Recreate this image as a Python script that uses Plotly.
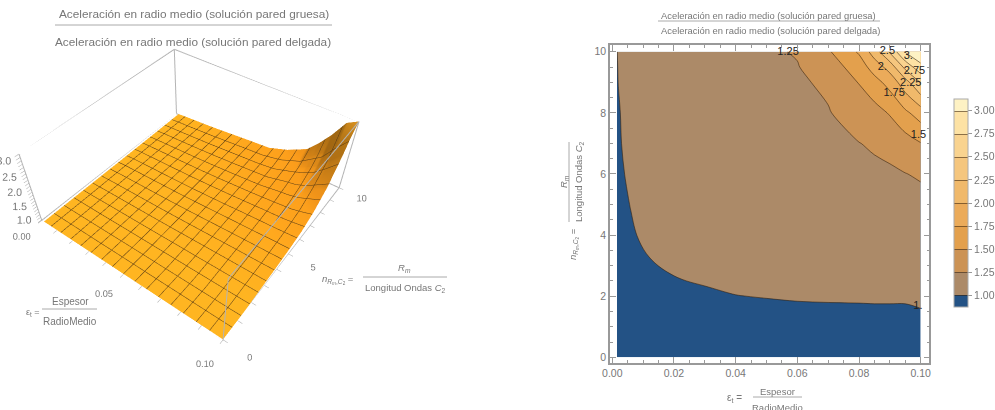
import plotly.graph_objects as go

eps = [.0015,.002,.003,.004,.006,.008,.011,.015,.02,.03,.04,.05,.06,.07,.08,.085,.09,.095,.1]
n = [0,1.5,2,2.5,3,4,5,6,7,8,9,9.5,10]
col = [
 [.99,.99,.99,.99,.99,.99,.99,.99,.99,.992,.995,.997,.999],
 [.99,.99,.99,.99,.99,.99,.99,.99,.992,.994,1.0015,1.003,1.005],
 [.99,.99,.99,.99,.99,.99,.99,.995,1.0001,1.004,1.007,1.009,1.011],
 [.99,.99,.99,.99,.99,.99,.996,1.0001,1.004,1.008,1.012,1.014,1.016],
 [.99,.99,.99,.99,.99,.996,1.001,1.006,1.01,1.014,1.019,1.021,1.024],
 [.99,.99,.99,.99,.996,1.0001,1.005,1.01,1.015,1.02,1.026,1.029,1.032],
 [.99,.99,.99,.99,.998,1.003,1.008,1.014,1.02,1.027,1.034,1.038,1.042],
 [.99,.99,.99,.997,1.0001,1.006,1.012,1.019,1.027,1.035,1.045,1.05,1.056],
 [.99,.99,.99,.999,1.002,1.009,1.017,1.026,1.036,1.047,1.06,1.067,1.074],
 [.99,.99,.997,1.0015,1.005,1.014,1.026,1.04,1.055,1.073,1.094,1.105,1.117],
 [.99,.995,.9995,1.005,1.01,1.02,1.036,1.055,1.078,1.105,1.135,1.152,1.17],
 [.99,.994,1.001,1.01,1.018,1.033,1.055,1.08,1.11,1.145,1.18,1.2,1.22],
 [.99,.99,1.005,1.018,1.03,1.05,1.08,1.11,1.15,1.19,1.215,1.24,1.265],
 [.99,.99,1.007,1.02,1.04,1.07,1.11,1.15,1.19,1.235,1.293,1.37,1.47],
 [.99,.988,1.01,1.03,1.05,1.09,1.13,1.19,1.245,1.37,1.51,1.62,1.78],
 [.99,.989,1.011,1.03,1.055,1.095,1.145,1.2,1.28,1.41,1.66,1.86,2.12],
 [.99,.988,1.012,1.035,1.06,1.10,1.16,1.22,1.31,1.52,1.84,2.1,2.53],
 [.99,.987,1.013,1.04,1.065,1.11,1.17,1.245,1.39,1.7,2.15,2.57,3.03],
 [.99,.995,1.02,1.045,1.07,1.12,1.18,1.275,1.49,1.87,2.51,2.93,3.2],
]
z = [[c[j] for c in col] for j in range(len(n))]

band_colors = ["#235285","#AC8A68","#CC9355","#E3A04D","#EBAB5A","#F0B96B","#F5C67E","#F9D38F","#FDE2A4","#FEF2C4"]
label_eps = [.057,.0993,.0914,.0876,.0968,.0892,.098,.096,.0991]
label_n = [9.97,7.27,8.64,9.49,8.97,10.02,9.37,9.84,1.66]
label_text = ["1.25","1.5","1.75","2.","2.25","2.5","2.75","3.","1."]
range_eps=[0,.1]; range_n=[0,10]; range_z=[.98,3.2]
z_label_vals=[1,1.5,2,2.5,3]
z_label_text=["1.0","1.5","2.0","2.5","3.0"]

GRAY="#777777"; FONT="Liberation Sans"
W=995; H=410
def fx(px): return px/W
def fy(py): return (H-py)/H

fig = go.Figure()

fig.add_trace(go.Surface(
    x=eps, y=n, z=z, showscale=False, hoverinfo="skip", cmin=1, cmax=3.2,
    colorscale=[[0,"#FFB21E"],[.1,"#FCA21A"],[.3,"#F59516"],[1,"#F0A020"]],
    lighting=dict(ambient=.35,diffuse=.8,specular=.03,roughness=.9,fresnel=0),
    lightposition=dict(x=4000,y=4000,z=8000),
    contours=dict(
        x=dict(show=True,start=.00625,end=.0999,size=.00625,color="#5a3c14",width=1.5),
        y=dict(show=True,start=.625,end=9.99,size=.625,color="#5a3c14",width=1.5),
    ),
))

# bounding box edges (all twelve, drawn from the axis ranges)
ex,ey,ez=[],[],[]
a0,a1=range_eps; b0,b1=range_n; c0,c1=range_z
for p,q in [((a0,b0),(a1,b0)),((a1,b0),(a1,b1)),((a1,b1),(a0,b1)),((a0,b1),(a0,b0))]:
    for zz in (c0,c1):
        ex+=[p[0],q[0],None]; ey+=[p[1],q[1],None]; ez+=[zz,zz,None]
    ex+=[p[0],p[0],None]; ey+=[p[1],p[1],None]; ez+=[c0,c1,None]
fig.add_trace(go.Scatter3d(x=ex,y=ey,z=ez,mode="lines",line=dict(color="#b4b4b4",width=2),hoverinfo="skip",showlegend=False))
fig.add_trace(go.Scatter3d(x=[a0]*len(z_label_vals),y=[b0]*len(z_label_vals),z=z_label_vals,text=z_label_text,
    mode="text",textposition="middle left",textfont=dict(size=10.5,color=GRAY,family=FONT),hoverinfo="skip",showlegend=False))

nc = len(band_colors)
fig.add_trace(go.Contour(
    x=eps, y=n, z=z, xaxis="x", yaxis="y", hoverinfo="skip",
    autocontour=False,
    contours=dict(start=1,end=3,size=.25,coloring="fill"),
    line=dict(color="rgba(50,30,10,.55)",width=1,smoothing=1),
    colorscale=[[i/(nc-1),c] for i,c in enumerate(band_colors)],
    colorbar=dict(x=fx(954),xanchor="left",y=fy(203),yanchor="middle",
        thickness=14,lenmode="pixels",len=208,tick0=1,dtick=.25,tickformat=".2f",
        tickfont=dict(size=10.5,color=GRAY,family=FONT),ticks="outside",ticklen=4,
        tickcolor="#999",outlinecolor="#aaa",outlinewidth=1,xpad=0,ypad=0),
))
fig.add_trace(go.Scatter(x=label_eps,y=label_n,text=label_text,mode="text",showlegend=False,
    hoverinfo="skip",cliponaxis=False,textfont=dict(size=11,color="#222",family=FONT)))

def ax3(vals,labels,rng):
    return dict(range=rng,tickvals=vals,ticktext=labels,title=dict(text=""),showgrid=False,zeroline=False,
        showbackground=False,showline=False,
        ticks="outside",ticklen=4,tickcolor="#aaaaaa",showspikes=False,tickangle=0,
        tickfont=dict(size=10.5,color=GRAY,family=FONT))
eps_ticks=[0,.01,.02,.03,.04,.05,.06,.07,.08,.09,.1]
eps_lab=["0.00","","","","","0.05","","","","","0.10"]
n_ticks=[0,1,2,3,4,5,6,7,8,9,10]
n_lab=["0","","","","","5","","","","","10"]
z_ticks=[1,1.1,1.2,1.3,1.4,1.5,1.6,1.7,1.8,1.9,2,2.1,2.2,2.3,2.4,2.5,2.6,2.7,2.8,2.9,3,3.1,3.2]
z_lab=[""]*len(z_ticks)

xa=dict(domain=[fx(610),fx(929.3)],range=[-.00075,.1028],tick0=0,dtick=.02,tickformat=".2f",
    showline=True,linecolor="#999",linewidth=1.5,mirror="allticks",ticks="inside",ticklen=6,tickcolor="#999",
    showgrid=False,zeroline=False,tickfont=dict(size=10.5,color=GRAY,family=FONT),
    minor=dict(dtick=.005,ticks="inside",ticklen=3,tickcolor="#999",showgrid=False))
ya=dict(domain=[fy(363),fy(45)],range=[-.187,10.22],tick0=0,dtick=2,
    showline=True,linecolor="#999",linewidth=1.5,mirror="allticks",ticks="inside",ticklen=6,tickcolor="#999",
    showgrid=False,zeroline=False,tickfont=dict(size=10.5,color=GRAY,family=FONT),
    minor=dict(dtick=.5,ticks="inside",ticklen=3,tickcolor="#999",showgrid=False))

def txt(px,py,s,size=9.5,angle=0,color=GRAY):
    return dict(x=fx(px),y=fy(py),xref="paper",yref="paper",text=s,showarrow=False,textangle=angle,
        font=dict(size=size,color=color,family=FONT),xanchor="center",yanchor="middle")
def bar(x0,y0,x1,y1):
    return dict(type="line",xref="paper",yref="paper",x0=fx(x0),x1=fx(x1),y0=fy(y0),y1=fy(y1),
        line=dict(color="#aaaaaa",width=1))

ann=[
 txt(194,14,"Aceleración en radio medio (solución pared gruesa)",11.8),
 txt(193,42,"Aceleración en radio medio (solución pared delgada)",11.8),
 txt(768,15,"Aceleración en radio medio (solución pared gruesa)",9.4),
 txt(770,31,"Aceleración en radio medio (solución pared delgada)",9.4),
 txt(33,312,"ε<sub>t</sub> =",9),
 txt(70,301,"Espesor",10), txt(70,321,"RadioMedio",10),
 txt(338,279,"<i>n</i><sub><i>R<sub>m</sub></i>,<i>C</i><sub>2</sub></sub> =",9.5),
 txt(404,268,"<i>R<sub>m</sub></i>",9.5), txt(405,288,"Longitud Ondas <i>C</i><sub>2</sub>",9.5),
 txt(734,398,"ε<sub>t</sub> =",10),
 txt(777,391,"Espesor",9.5), txt(777,407,"RadioMedio",9.5),
 txt(573,244,"<i>n</i><sub><i>R<sub>m</sub></i>,<i>C</i><sub>2</sub></sub> =",9.5,-90),
 txt(564,182,"<i>R<sub>m</sub></i>",9.5,-90), txt(579,182,"Longitud Ondas <i>C</i><sub>2</sub>",9.5,-90),
]
shp=[bar(55,25,332,25),bar(658,21,880,21),bar(42,309,97,309),bar(363,277,447,277),bar(753,397,802,397),bar(569,142,569,222)]

fig.update_layout(
    width=W,height=H,autosize=False,margin=dict(l=0,r=0,t=0,b=0,autoexpand=False),
    paper_bgcolor="white",plot_bgcolor="white",showlegend=False,font=dict(family=FONT,color=GRAY),
    xaxis=xa,yaxis=ya,annotations=ann,shapes=shp,
    scene=dict(domain=dict(x=[0,fx(390)],y=[0,1]),
        aspectmode="manual",aspectratio=dict(x=1,y=1,z=.40),
        xaxis=ax3(eps_ticks,eps_lab,range_eps),yaxis=ax3(n_ticks,n_lab,range_n),zaxis=ax3(z_ticks,z_lab,range_z),
        camera=dict(eye=dict(x=.947,y=-1.282,z=1.71-.21),center=dict(x=0,y=0,z=-.21),up=dict(x=0,y=0,z=1))),
)
fig.write_html("out.html",config=dict(displayModeBar=False),
    post_script="document.body.style.margin='0';document.documentElement.style.margin='0';")
